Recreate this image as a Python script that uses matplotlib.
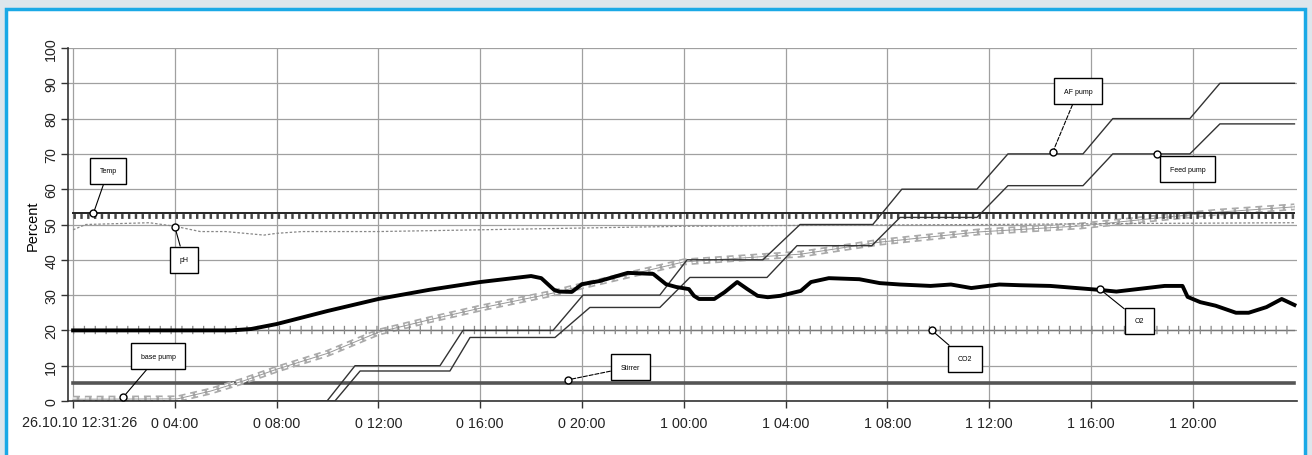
import matplotlib
matplotlib.use("Agg")
import matplotlib.pyplot as plt
from matplotlib.patches import Rectangle

plt.rcParams['font.family'] = ['Liberation Sans', 'DejaVu Sans']

# elapsed hours since 26.10.10 12:31:26
tick_hours = [0, 4, 8, 12, 16, 20, 24, 28, 32, 36, 40, 44]
tick_labels = ["26.10.10 12:31:26", "0 04:00", "0 08:00", "0 12:00", "0 16:00", "0 20:00",
               "1 00:00", "1 04:00", "1 08:00", "1 12:00", "1 16:00", "1 20:00"]

temp_t = [0, 48]
temp_v = [53.2, 53.2]

ph_t = [0, 0.5, 3, 4, 5, 6, 7.5, 8, 9, 12, 16, 20, 24, 30, 36, 42, 48]
ph_v = [48.5, 50, 50.5, 49.5, 48, 48, 47, 47.5, 48, 48, 48.5, 49, 49.5, 49.8, 50, 50.3, 50.5]

o2_t = [0, 6.2, 7, 8, 10, 12, 14, 16, 18, 18.4, 18.9, 19.1, 19.6, 20, 20.7, 21.8, 22.8, 23.3,
        23.7, 24.2, 24.4, 24.6, 25.2, 25.6, 26.1, 26.5, 26.9, 27.3, 27.8, 28.6, 29, 29.7, 30.9,
        31.7, 32.5, 33.7, 34.5, 35.3, 36.4, 37.2, 38.4, 40.3, 41, 42.9, 43.6, 43.8, 44.3, 44.9,
        45.7, 46.2, 46.9, 47.5, 48]
o2_v = [20, 20, 20.4, 21.8, 25.5, 28.9, 31.5, 33.7, 35.4, 34.8, 31.5, 31, 30.9, 33.1, 34, 36.3,
        36, 33.1, 32.3, 31.7, 29.8, 28.9, 28.9, 30.8, 33.7, 31.7, 29.8, 29.4, 29.8, 31.2, 33.7,
        34.8, 34.5, 33.4, 33, 32.6, 33, 32, 33, 32.8, 32.6, 31.5, 31, 32.6, 32.6, 29.5, 28, 27,
        25, 25, 26.6, 28.9, 27.2]

co2_t = [0, 48]
co2_v = [20, 20]

base_t = [0, 4.1, 5.4, 6.7, 8, 10, 12, 14, 16, 18.7, 20, 24, 27.3, 28.6, 31.7, 35.6, 39.6, 42.3, 45, 48]
base_v = [0.5, 0.6, 2.8, 5.7, 9, 13.5, 19.5, 23, 26.3, 30.3, 32.6, 39.4, 41, 41.6, 45, 47.9, 49.6, 51.6, 53.5, 55]

stirrer_t = [0, 48]
stirrer_v = [5, 5]

af_t = [0, 9.98, 11.08, 14.42, 15.32, 18.86, 20.04, 23.06, 24.13, 27.11, 28.57, 31.43, 32.57,
        35.52, 36.74, 39.69, 40.86, 43.89, 45.07, 48]
af_v = [0, 0, 10, 10, 20, 20, 30, 30, 40, 40, 50, 50, 60, 60, 70, 70, 80, 80, 90, 90]

feed_t = [0, 10.29, 11.28, 14.81, 15.6, 18.94, 20.31, 23.06, 24.24, 27.27, 28.45, 31.39, 32.5,
          35.52, 36.74, 39.69, 40.86, 43.89, 45.07, 48]
feed_v = [0, 0, 8.5, 8.5, 18, 18, 26.5, 26.5, 35, 35, 44, 44, 52, 52, 61, 61, 70, 70, 78.5, 78.5]

# label, point on series, box centre
labels = [("Temp", 0.8, 53.2, 1.38, 65.2, '-'),
          ("pH", 4.0, 49.3, 4.36, 40, '-'),
          ("base pump", 1.96, 1, 3.34, 12.7, '-'),
          ("Stirrer", 19.45, 6, 21.9, 9.6, '--'),
          ("CO2", 33.75, 20, 35.05, 11.9, '-'),
          ("O2", 40.35, 31.7, 41.9, 22.7, '-'),
          ("AF pump", 38.5, 70.5, 39.5, 87.8, '--'),
          ("Feed pump", 42.6, 70, 43.8, 65.7, '-')]

fig = plt.figure(figsize=(13.12, 4.56), dpi=100)
fig.patch.set_facecolor('#dde6ec')
fig.patches.append(Rectangle((6 / 1312, -0.05), 1299 / 1312, 1.05 - 10 / 456,
                             transform=fig.transFigure, fc='white', ec='#1aa9e6', lw=2.5,
                             zorder=-10))

ax = fig.add_axes([68 / 1312, 1 - 402 / 456, (1297 - 68) / 1312, (402 - 49) / 456])
ax.set_facecolor('none')

ax.plot(stirrer_t, stirrer_v, color='#555555', lw=2.6, zorder=3)
ax.plot(base_t, base_v, color='#aaaaaa', lw=5, ls=(0, (1.0, 0.7)), zorder=3)
ax.plot(base_t, base_v, color='white', lw=2.6, ls=(0, (1.0, 0.7)), zorder=3)
ax.plot(base_t, base_v, color='#999999', lw=0.7, zorder=3)
ax.plot(co2_t, co2_v, color='#777777', lw=1, zorder=3)
ax.plot(co2_t, co2_v, color='#888888', lw=6, ls=(0, (0.15, 1.15)), zorder=3)
ax.plot(ph_t, ph_v, color='#888888', lw=0.9, ls=(0, (2, 1.5)), zorder=3)
ax.plot(temp_t, temp_v, color='#222222', lw=1.4, zorder=4)
ax.plot(temp_t, [v - 0.7 for v in temp_v], color='#444444', lw=3.5, ls=(0, (0.5, 0.9)), zorder=4)
ax.plot(af_t, af_v, color='#333333', lw=1, zorder=4)
ax.plot(feed_t, feed_v, color='#333333', lw=1, zorder=4)
ax.plot(o2_t, o2_v, color='black', lw=2.8, zorder=5)

for text, px, py, bx, by, ls in labels:
    ax.annotate(text, xy=(px, py), xytext=(bx, by), fontsize=5, ha='center', va='center',
                bbox=dict(boxstyle='square,pad=1.4', fc='white', ec='black', lw=1),
                arrowprops=dict(arrowstyle='-', color='black', lw=0.8, ls=ls,
                                shrinkA=0, shrinkB=2), zorder=7)
    ax.plot(px, py, 'o', ms=5, mfc='white', mec='black', mew=1, zorder=8)

ax.set_xlim(-0.2, 48.1)
ax.set_ylim(0, 100)
ax.set_xticks(tick_hours)
ax.set_xticklabels([""] + tick_labels[1:], fontsize=10.3, color='#222222')
# start label sits a little right of its tick
ax.annotate(tick_labels[0], xy=(tick_hours[0], 0), xycoords=('data', 'axes fraction'),
            xytext=(5, -15), textcoords='offset points', ha='center', va='center',
            fontsize=10.3, color='#222222', annotation_clip=False)
ax.set_yticks(range(0, 101, 10))
ax.set_yticklabels([str(v) for v in range(0, 101, 10)], rotation=90, va='center',
                   fontsize=10.3, color='#222222')
ax.set_ylabel("Percent", fontsize=10.5, labelpad=3)
ax.grid(True, color='#a0a0a0', lw=0.9)
ax.set_axisbelow(True)
for s in ['top', 'right']:
    ax.spines[s].set_visible(False)
for s in ['left', 'bottom']:
    ax.spines[s].set_color('#333333')
    ax.spines[s].set_linewidth(1.2)
ax.tick_params(direction='out', length=5, width=1, color='#333333')
ax.tick_params(axis='x', pad=6)
ax.tick_params(axis='y', pad=2)

fig.savefig("out.png", dpi=100, facecolor=fig.get_facecolor())
